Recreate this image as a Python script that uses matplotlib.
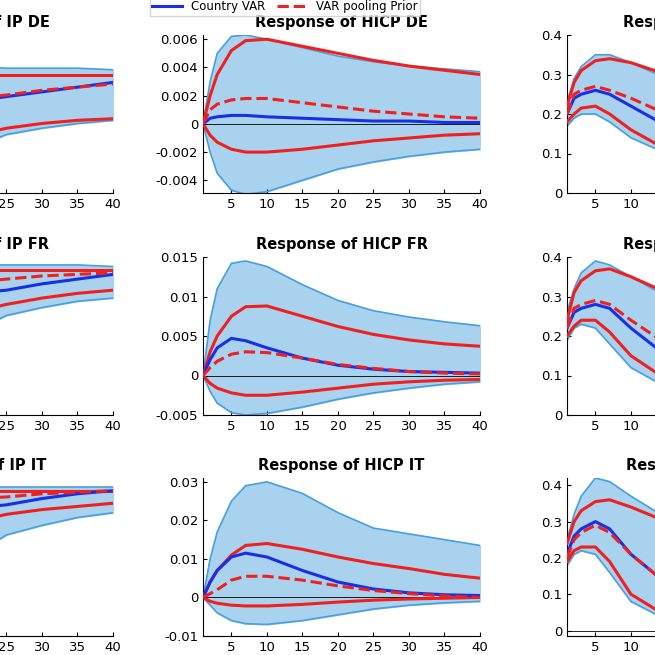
import matplotlib
matplotlib.use("Agg")
import matplotlib.pyplot as plt

H = [1, 2, 3, 5, 7, 10, 15, 20, 25, 30, 35, 40]

titles = [["Response of IP DE", "Response of HICP DE", "Response of STR DE"],
          ["Response of IP FR", "Response of HICP FR", "Response of STR FR"],
          ["Response of IP IT", "Response of HICP IT", "Response of STR IT"]]

# left column (IP), only right part visible
gdp_band_hi = [[.2,.5,.7,.78,.8,.8,.8,.8,.79,.79,.79,.78],
               [.2,.5,.7,.85,.9,.93,.95,.95,.95,.95,.95,.94],
               [.2,.5,.7,.85,.9,.93,.94,.94,.94,.94,.94,.94]]
gdp_band_lo = [[0,-.1,-.2,-.2,-.1,0,.15,.28,.37,.41,.44,.46],
               [0,-.1,-.2,-.2,-.1,.1,.35,.52,.63,.68,.72,.74],
               [0,-.1,-.2,-.2,-.1,.1,.3,.5,.64,.7,.75,.78]]
gdp_red_hi = [[.1,.4,.6,.7,.73,.74,.75,.75,.75,.75,.75,.75],
              [.1,.4,.6,.8,.87,.9,.92,.92,.92,.92,.92,.92],
              [.1,.4,.6,.8,.87,.9,.92,.92,.92,.92,.92,.92]]
gdp_red_lo = [[0,0,.05,.1,.15,.22,.3,.36,.41,.44,.46,.47],
              [0,0,.05,.15,.3,.45,.57,.65,.70,.74,.77,.79],
              [0,0,.05,.15,.3,.5,.65,.72,.77,.80,.82,.84]]
gdp_blue = [[0,.1,.2,.3,.4,.48,.55,.58,.61,.64,.67,.70],
            [0,.1,.2,.35,.5,.62,.72,.77,.79,.83,.86,.89],
            [0,.1,.2,.4,.55,.68,.77,.81,.83,.87,.90,.92]]
gdp_dash = [[0,.1,.2,.3,.4,.5,.56,.6,.62,.65,.67,.69],
            [0,.1,.2,.4,.55,.7,.8,.84,.86,.88,.89,.90],
            [0,.1,.2,.4,.6,.75,.84,.87,.88,.90,.91,.92]]

hicp_band_hi = [[0,.003,.005,.0062,.0063,.006,.0054,.0048,.0044,.0041,.0039,.0037],
                [0,.007,.011,.0142,.0145,.0138,.0115,.0095,.0082,.0074,.0068,.0063],
                [0,.01,.017,.025,.029,.030,.027,.022,.018,.0165,.015,.0135]]
hicp_band_lo = [[0,-.002,-.0035,-.0047,-.005,-.0048,-.004,-.0032,-.0027,-.0023,-.002,-.0018],
                [0,-.002,-.0035,-.0047,-.005,-.0048,-.004,-.003,-.0022,-.0016,-.0011,-.0008],
                [0,-.002,-.004,-.006,-.0068,-.007,-.006,-.0045,-.003,-.002,-.0014,-.001]]
hicp_red_hi = [[0,.002,.0035,.0052,.0059,.006,.0055,.005,.0045,.0041,.0038,.0035],
               [0,.003,.005,.0075,.0087,.0088,.0075,.0062,.0052,.0045,.004,.0037],
               [0,.004,.007,.011,.0135,.014,.0125,.0105,.0088,.0075,.006,.005]]
hicp_red_lo = [[0,-.0008,-.0013,-.0018,-.002,-.002,-.0018,-.0015,-.0012,-.001,-.0008,-.0007],
               [0,-.001,-.0016,-.0022,-.0025,-.0025,-.0021,-.0016,-.0011,-.0008,-.0006,-.0005],
               [0,-.001,-.0015,-.002,-.0022,-.0022,-.0018,-.0012,-.0007,-.0004,-.0002,0]]
hicp_blue = [[0,.0004,.0005,.0006,.0006,.0005,.0004,.0003,.0002,.0002,.0001,.0001],
             [0,.002,.0035,.0047,.0044,.0035,.0022,.0013,.0008,.0005,.0004,.0003],
             [0,.004,.007,.0105,.0115,.0105,.007,.004,.0022,.0012,.0007,.0005]]
hicp_dash = [[0,.001,.0014,.0017,.0018,.0018,.0015,.0012,.0009,.0007,.0005,.0004],
             [0,.001,.0018,.0027,.003,.0029,.0022,.0014,.0009,.0005,.0003,.0002],
             [0,.001,.002,.0045,.0055,.0055,.0045,.003,.0018,.001,.0004,0]]

str_band_hi = [[.23,.29,.32,.35,.35,.33,.29,.25,.22,.2,.18,.17],
               [.26,.32,.36,.39,.38,.35,.3,.26,.23,.21,.19,.18],
               [.25,.32,.37,.42,.41,.37,.31,.27,.24,.22,.2,.19]]
str_band_lo = [[.17,.19,.2,.2,.18,.14,.1,.08,.07,.06,.05,.05],
               [.19,.22,.23,.22,.18,.12,.07,.05,.04,.03,.03,.03],
               [.18,.21,.22,.21,.16,.08,.03,.01,0,0,0,0]]
str_red_hi = [[.22,.28,.31,.335,.34,.33,.3,.27,.25,.23,.21,.2],
              [.24,.31,.34,.365,.37,.35,.31,.28,.25,.23,.21,.2],
              [.24,.3,.33,.355,.36,.34,.3,.26,.23,.21,.2,.19]]
str_red_lo = [[.18,.2,.215,.22,.2,.16,.11,.08,.07,.06,.05,.05],
              [.2,.225,.24,.24,.21,.15,.09,.06,.05,.04,.04,.04],
              [.19,.22,.23,.23,.19,.1,.04,.02,.01,.01,.01,.01]]
str_blue = [[.2,.24,.25,.26,.25,.22,.17,.13,.11,.1,.09,.08],
            [.22,.26,.27,.28,.27,.22,.15,.11,.09,.08,.07,.07],
            [.21,.26,.28,.3,.28,.21,.13,.09,.07,.06,.05,.05]]
str_dash = [[.2,.25,.26,.27,.26,.24,.2,.16,.14,.12,.11,.1],
            [.22,.27,.28,.29,.28,.24,.18,.14,.12,.1,.09,.08],
            [.2,.25,.27,.29,.27,.21,.13,.09,.07,.06,.05,.05]]

ylims = [[(0, 1), (-0.0049, 0.0063), (0, 0.4)],
         [(0, 1), (-0.005, 0.015), (0, 0.4)],
         [(0, 1), (-0.01, 0.031), (-0.015, 0.42)]]
yticks = [[[], [-0.004, -0.002, 0, 0.002, 0.004, 0.006], [0, 0.1, 0.2, 0.3, 0.4]],
          [[], [-0.005, 0, 0.005, 0.01, 0.015], [0, 0.1, 0.2, 0.3, 0.4]],
          [[], [-0.01, 0, 0.01, 0.02, 0.03], [0, 0.1, 0.2, 0.3, 0.4]]]
yticklabels = [[[], ["-0.004", "-0.002", "0", "0.002", "0.004", "0.006"], ["0", "0.1", "0.2", "0.3", "0.4"]],
               [[], ["-0.005", "0", "0.005", "0.01", "0.015"], ["0", "0.1", "0.2", "0.3", "0.4"]],
               [[], ["-0.01", "0", "0.01", "0.02", "0.03"], ["0", "0.1", "0.2", "0.3", "0.4"]]]

series = [
    (gdp_band_hi, gdp_band_lo, gdp_red_hi, gdp_red_lo, gdp_blue, gdp_dash),
    (hicp_band_hi, hicp_band_lo, hicp_red_hi, hicp_red_lo, hicp_blue, hicp_dash),
    (str_band_hi, str_band_lo, str_red_hi, str_red_lo, str_blue, str_dash),
]

W = 655.0
fig = plt.figure(figsize=(6.55, 6.55), dpi=100)
lefts = [-164, 203, 567]
width = 277
rows = [(35, 193), (257, 415), (478, 636)]
RED = "#ee2020"
BLUE = "#1a2ee6"
for r in range(3):
    top, bot = rows[r]
    for c in range(3):
        ax = fig.add_axes([lefts[c] / W, 1 - bot / W, width / W, (bot - top) / W])
        bh, bl, rh, rl, bb, dd = series[c]
        ax.fill_between(H, bl[r], bh[r], color="#a8d2ee", zorder=1)
        ax.plot(H, bh[r], color="#4a9fdc", lw=1.2, zorder=2)
        ax.plot(H, bl[r], color="#4a9fdc", lw=1.2, zorder=2)
        ax.axhline(0, color="black", lw=0.6, zorder=2)
        ax.plot(H, rh[r], color=RED, lw=2.2, zorder=3)
        ax.plot(H, rl[r], color=RED, lw=2.2, zorder=3)
        lb, = ax.plot(H, bb[r], color=BLUE, lw=2.2, zorder=4)
        ld, = ax.plot(H, dd[r], color=RED, lw=2.2, ls="--", zorder=4)
        ax.set_xlim(1, 40)
        ax.set_ylim(*ylims[r][c])
        ax.set_xticks([5, 10, 15, 20, 25, 30, 35, 40])
        ax.set_yticks(yticks[r][c])
        ax.set_yticklabels(yticklabels[r][c])
        ax.tick_params(labelsize=9.5, direction="in", length=3)
        for s in ("top", "right"):
            ax.spines[s].set_visible(False)
        ax.set_title(titles[r][c], fontsize=10.5, fontweight="bold", pad=6)

fig.legend([lb, ld], ["Country VAR", "VAR pooling Prior"], loc="upper center",
           bbox_to_anchor=(285 / W, 1.012), ncol=2, fontsize=8.5, frameon=True,
           handlelength=2.5, columnspacing=1.0, borderpad=0.2, fancybox=False)
fig.savefig("out.png", dpi=100)
